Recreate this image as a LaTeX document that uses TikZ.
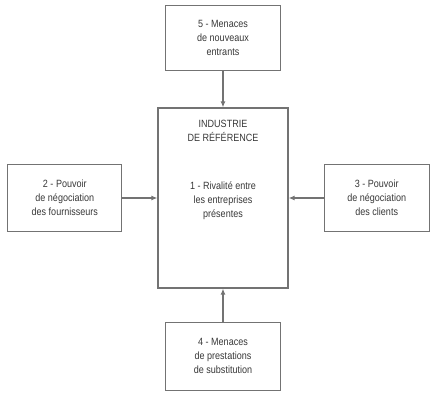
\documentclass[tikz,border=0pt]{standalone}
\usepackage{fontspec}
\setmainfont{Liberation Sans}[FakeStretch=0.86]
\usetikzlibrary{positioning,arrows.meta}

\begin{document}
\begin{tikzpicture}[x=1pt, y=1pt, thick,
		force node/.style={rectangle,draw=black!55,line width=1.2pt,fill=white,
			align=center,text=black!78,font=\fontsize{10.5}{14}\selectfont},
		every edge/.style={draw=black!55,line width=1.2pt,-{Latex[length=6pt,width=5pt]}}]
		
		\useasboundingbox (0,0) rectangle (430,-392);
		
		\node[force node, minimum width=130pt, minimum height=180pt] (1) at (223,-198) {};
		\node[force node, minimum width=115pt, minimum height=65pt] (5) [above=36pt of 1] {5 - Menaces\\de nouveaux\\entrants};
		\node[force node, minimum width=114pt, minimum height=67pt] (2) [left=35pt of 1] {2 - Pouvoir\\de négociation\\des fournisseurs};
		\node[force node, minimum width=105pt, minimum height=67pt] (3) [right=35pt of 1] {3 - Pouvoir\\de négociation\\des clients};
		\node[force node, minimum width=115pt, minimum height=68pt] (4) [below=33pt of 1] {4 - Menaces\\de prestations\\de substitution};
		
		\node[force node, draw=none, fill=none, anchor=north] (t) at ([yshift=-9pt]1.north) {INDUSTRIE\\DE RÉFÉRENCE};
		\node[force node, draw=none, fill=none] (r) at ([yshift=-2pt]1.center |- 0,-199) {1 - Rivalité entre\\les entreprises\\présentes};
		
		\path
		(5) edge (1)
		(2) edge (1)
		(3) edge (1)
		(4) edge (1);
		\end{tikzpicture}
\end{document}
